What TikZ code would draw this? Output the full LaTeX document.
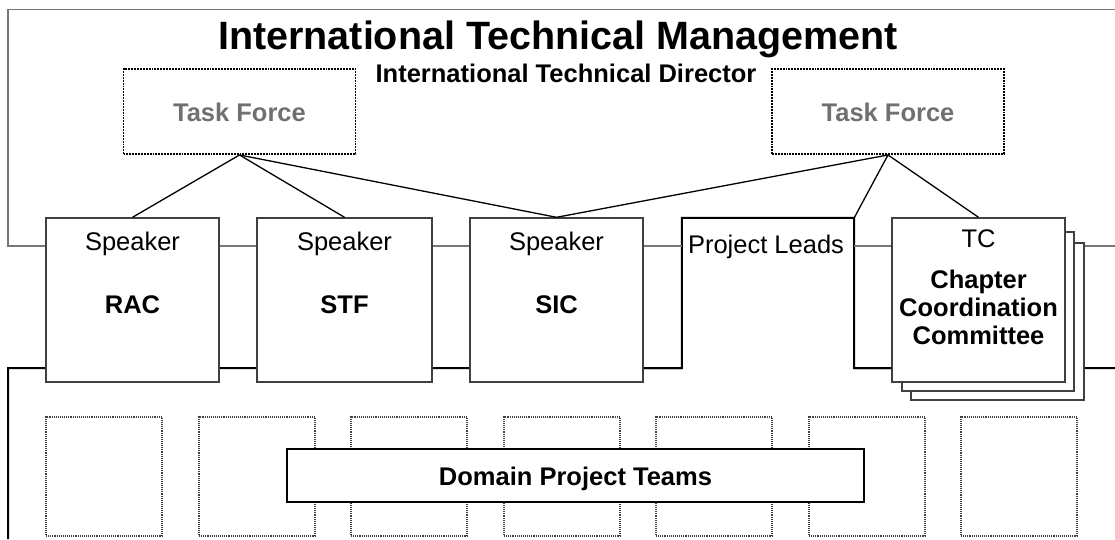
\documentclass[tikz,border=0pt]{standalone}
\usepackage{fontspec}
\setmainfont{Liberation Sans}
\definecolor{framegray}{HTML}{777777}
\definecolor{boxgray}{HTML}{404040}
\definecolor{tfgray}{HTML}{707070}
\definecolor{dotgray}{HTML}{404040}
\begin{document}
\begin{tikzpicture}[x=1pt,y=-1pt,
  graywall/.style={draw=framegray,line width=1.8pt},
  blackwall/.style={draw=black,line width=2pt},
  unitbox/.style={draw=boxgray,fill=white,line width=1.4pt,inner sep=0pt},
  tfbox/.style={draw=black,line width=1.9pt,densely dotted,inner sep=0pt,minimum width=232pt,minimum height=85pt},
  teambox/.style={draw=dotgray,line width=1.1pt,densely dotted,inner sep=0pt,minimum width=116pt,minimum height=119pt},
  link/.style={draw=black,line width=1.3pt},
  txt/.style={font=\fontsize{25.5}{28}\selectfont,inner sep=0pt,anchor=base},
  btxt/.style={font=\fontsize{25.5}{28}\selectfont\bfseries,inner sep=0pt,anchor=base},
]
\useasboundingbox[fill=white] (0,0) rectangle (1115,539);
\coordinate (gy) at (0,246);
\coordinate (by) at (0,368);

% invisible region for the Project Leads opening
\node[inner sep=0pt,minimum width=172pt,minimum height=150pt] (pl) at (768,293) {};

% upper (management) frame
\draw[graywall] (1115,9.5) -- (8,9.5) -- (8,246) coordinate (gl) -- (46,246) coordinate (ga);

% lower (domain) frame
\draw[blackwall] (8,539) -- (8,368) -- (pl.south west) -- (pl.north west) -- (pl.north east) -- (pl.south east) -- (1115,368);

% task forces
\node[tfbox] (tf1) at (239.5,111.5) {};
\node[tfbox] (tf2) at (888,111.5) {};
\node[btxt,text=tfgray] at (239.5,121) {Task Force};
\node[btxt,text=tfgray] at (888,121) {Task Force};

% titles
\node[font=\fontsize{39.5}{42}\selectfont\bfseries,inner sep=0pt,anchor=base] (title) at (558,49) {International Technical Management};
\node[btxt] (itd) at (566,82) {International Technical Director};

% speaker boxes
\node[unitbox,minimum width=173pt,minimum height=164pt] (rac) at (132.5,300) {};
\node[unitbox,minimum width=175pt,minimum height=164pt] (stf) at (344.5,300) {};
\node[unitbox,minimum width=173pt,minimum height=164pt] (sic) at (556.5,300) {};

% TC stack
\node[unitbox,minimum width=173pt,minimum height=157pt] (tc3) at (997.5,321.5) {};
\node[unitbox,minimum width=172pt,minimum height=159pt] (tc2) at (988,311.5) {};
\node[unitbox,minimum width=173pt,minimum height=164pt] (tc) at (978.5,300) {};

% gray connections at y=246
\draw[graywall] (rac.east |- gy) -- (stf.west |- gy);
\draw[graywall] (stf.east |- gy) -- (sic.west |- gy);
\draw[graywall] (sic.east |- gy) -- (pl.west |- gy);
\draw[graywall] (pl.east |- gy) -- (tc.west |- gy);
\draw[graywall] (tc3.east |- gy) -- (1115,246);
% black connections at y=368
\draw[blackwall] (8,368) -- (rac.west |- by);
\draw[blackwall] (rac.east |- by) -- (stf.west |- by);
\draw[blackwall] (stf.east |- by) -- (sic.west |- by);
\draw[blackwall] (sic.east |- by) -- (pl.south west);
\draw[blackwall] (pl.south east) -- (tc.west |- by);
\draw[blackwall] (tc3.east |- by) -- (1115,368);

% labels in boxes
\node[txt] at (132.5,250) {Speaker};
\node[btxt] at (132.5,313) {RAC};
\node[txt] at (344.5,250) {Speaker};
\node[btxt] at (344.5,313) {STF};
\node[txt] at (556.5,250) {Speaker};
\node[btxt] at (556.5,313) {SIC};
\node[txt] at (766,253) {Project Leads};
\node[txt] at (978.5,247) {TC};
\node[btxt] at (978.5,288) {Chapter};
\node[btxt] at (978.5,316) {Coordination};
\node[btxt] at (978.5,344) {Committee};

% connectors from task forces
\draw[link] (tf1.south) -- (rac.north);
\draw[link] (tf1.south) -- (stf.north);
\draw[link] (tf1.south) -- (sic.north);
\draw[link] (tf2.south) -- (sic.north);
\draw[link] (tf2.south) -- (pl.north east);
\draw[link] (tf2.south) -- (tc.north);

% domain project teams
\foreach \i/\x in {1/104,2/257,3/409,4/562,5/714,6/867,7/1019}{
  \node[teambox] (team\i) at (\x,476.5) {};
}
\node[draw=black,fill=white,line width=1.8pt,inner sep=0pt,minimum width=577pt,minimum height=53pt] (dpt) at (575.5,475.5) {};
\node[btxt] at (575.5,485) {Domain Project Teams};
\end{tikzpicture}
\end{document}
